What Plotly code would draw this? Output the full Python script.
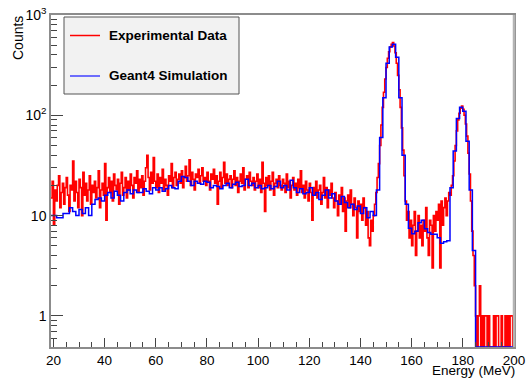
import plotly.graph_objects as go

# ---------------- data ----------------
# Experimental data: counts per 0.5 MeV bin, first bin starts at 19.0 MeV
RED_START = 19.0
RED_WIDTH = 0.5
red_counts = [
    15, 22, 8, 18, 14, 20, 25, 12, 17, 21, 13, 19, 24, 16, 11, 20, 18, 35, 14, 22,      # 19.0-28.5
    17, 12, 23, 19, 10, 27, 16, 21, 14, 18, 25, 13, 20, 17, 22, 15, 19, 28, 12, 18,     # 29.0-38.5
    21, 16, 33, 9, 19, 24, 17, 22, 14, 26, 20, 18, 23, 13, 21, 27, 16, 19, 24, 15,      # 39.0-48.5
    22, 18, 26, 20, 15, 24, 21, 28, 17, 23, 19, 25, 16, 22, 30, 40, 24, 18, 27, 21,     # 49.0-58.5
    38, 22, 19, 26, 17, 24, 21, 29, 18, 23, 20, 16, 25, 22, 33, 19, 24, 27, 20, 23,     # 59.0-68.5
    26, 21, 28, 19, 24, 31, 22, 25, 36, 20, 27, 23, 18, 26, 24, 29, 21, 25, 30, 22,     # 69.0-78.5
    24, 20, 27, 22, 18, 26, 23, 29, 21, 25, 13, 22, 27, 19, 24, 34, 21, 26, 20, 23,     # 79.0-88.5
    25, 19, 23, 28, 20, 24, 17, 22, 26, 21, 30, 18, 23, 25, 19, 27, 22, 20, 24, 18,     # 89.0-98.5
    22, 26, 19, 23, 17, 34, 21, 11, 24, 20, 25, 18, 22, 27, 16, 21, 23, 19, 25, 20,     # 99.0-108.5
    18, 23, 21, 17, 26, 19, 22, 15, 20, 24, 18, 21, 16, 23, 19, 28, 17, 20, 15, 22,     # 109.0-118.5
    18, 14, 21, 17, 9, 19, 16, 22, 15, 18, 20, 13, 17, 24, 15, 19, 12, 18, 16, 21,      # 119.0-128.5
    15, 12, 17, 14, 10, 16, 13, 19, 11, 15, 7, 14, 16, 12, 18, 13, 10, 15, 12, 6,       # 129.0-138.5
    14, 11, 13, 9, 15, 12, 8, 11, 6, 5, 9, 7, 10, 13, 17, 24, 33, 50, 80, 120,          # 139.0-148.5
    170, 230, 300, 370, 430, 480, 510, 530, 490, 420, 330, 250, 180, 120, 75, 45, 25, 14, 9, 11,  # 149.0-158.5
    6, 9, 5, 8, 11, 4, 7, 10, 6, 8, 5, 9, 7, 12, 6, 4, 9, 8, 3, 10,                      # 159.0-168.5
    7, 11, 9, 13, 3, 14, 8, 12, 15, 10, 14, 17, 16, 20, 25, 35, 50, 70, 90, 105,        # 169.0-178.5
    118, 124, 115, 100, 82, 62, 42, 26, 14, 7, 4, 2, 1, 0, 1, 2, 0, 1, 0, 1,            # 179.0-188.5
    1, 0, 1, 0, 0, 0, 1, 0, 1, 1, 0, 0, 1, 0, 0, 1, 0, 1, 0, 1, 1, 0,                    # 189.0-199.5
]

# Geant4 simulation: counts per 1.25 MeV bin, first bin starts at 18.75 MeV
BLUE_START = 18.75
BLUE_WIDTH = 1.25
blue_counts = [
    10, 10, 9.5, 9.5, 10.5, 10.5, 12, 11,          # 18.75-27.5
    10, 11.5, 10.5, 12, 10, 13, 14.5, 15,          # 28.75-37.5
    14, 16, 17, 15, 17.5, 16, 14, 17,              # 38.75-47.5
    18, 16.5, 18, 17, 17, 18.5, 17.5, 16.5,        # 48.75-57.5
    19, 18, 19, 17.5, 18.5, 20, 19, 18.5,          # 58.75-67.5
    22, 24.5, 24, 22, 20, 22, 21, 20.5,            # 68.75-77.5
    22, 21.5, 19, 20, 19.5, 18.5, 20, 21,          # 78.75-87.5
    19, 20.5, 21.5, 19.5, 20, 23, 20, 21,          # 88.75-97.5
    19, 20, 18.5, 19, 20, 18.5, 19.5, 22,          # 98.75-107.5
    19, 20, 18, 22.5, 19, 17, 18.5, 16.5,          # 108.75-117.5
    17, 19, 16, 17, 14.5, 16, 18, 15,              # 118.75-127.5
    16.5, 14, 13, 15.5, 13.5, 12, 13, 11.5,        # 128.75-137.5
    12.5, 10.5, 12, 9.5, 11, 10, 18, 60,           # 138.75-147.5
    150, 330, 480, 510, 380, 150, 40, 13,          # 148.75-157.5
    7.5, 6.6, 7, 8.5, 9, 7.4, 6.8, 6.5,            # 158.75-167.5
    6.5, 6, 5.3, 5.5, 5.6, 19, 44, 93,             # 168.75-177.5
    120, 110, 55, 18, 4.5, 0, 0, 0,                # 178.75-187.5
    0, 0, 0, 0, 0, 0, 0, 0,                        # 188.75-197.5
    0,                                             # 198.75
]

x_tickvals = [20, 40, 60, 80, 100, 120, 140, 160, 180, 200]
y_tickvals = [1, 10, 100, 1000]
y_ticktext = ["1", "10", "10<sup>2</sup>", "10<sup>3</sup>"]
y_minor_tickvals = [0.5, 0.6, 0.7, 0.8, 0.9,
                    2, 3, 4, 5, 6, 7, 8, 9,
                    20, 30, 40, 50, 60, 70, 80, 90,
                    200, 300, 400, 500, 600, 700, 800, 900]

legend_labels = ["Experimental Data", "Geant4 Simulation"]

# ---------------- layout geometry ----------------
W, H = 527, 378
L, R, T, B = 51, 514, 15, 347
X_RANGE = [19.05, 200.02]
Y_MIN = 0.49
Y_RANGE = [-0.31, 3.0]


def px_x(p):
    return (p - L) / (R - L)


def px_y(p):
    return (B - p) / (B - T)


def step_xy(start, width, counts):
    xs = [start + i * width for i in range(len(counts) + 1)]
    ys = [c if c > 0 else Y_MIN for c in counts]
    ys = ys + [ys[-1]]
    return xs, ys


rx, ry = step_xy(RED_START, RED_WIDTH, red_counts)
bx, by = step_xy(BLUE_START, BLUE_WIDTH, blue_counts)

fig = go.Figure()
fig.add_trace(go.Scatter(x=rx, y=ry, mode="lines", line=dict(color="#ff0000", width=1.6, shape="hv"),
                         name=legend_labels[0], showlegend=False))
fig.add_trace(go.Scatter(x=bx, y=by, mode="lines", line=dict(color="#0000ff", width=1.5, shape="hv"),
                         name=legend_labels[1], showlegend=False))

FONT = "Liberation Sans, Arial, sans-serif"
axis_color = "#8c8c8c"

fig.update_layout(
    width=W, height=H,
    margin=dict(l=L, r=W - R, t=T, b=H - B, pad=0, autoexpand=False),
    paper_bgcolor="white", plot_bgcolor="white",
    font=dict(family=FONT, size=14, color="black"),
    xaxis=dict(range=X_RANGE, showgrid=False, zeroline=False, automargin=False,
               showline=True, linecolor=axis_color, linewidth=1.5, mirror=True,
               ticks="inside", ticklen=9, tickwidth=1, tickcolor="#444",
               tickvals=x_tickvals, tickfont=dict(size=13.5),
               minor=dict(ticks="inside", ticklen=5, tickwidth=1, tickcolor="#444", dtick=5, tick0=0)),
    yaxis=dict(type="log", range=Y_RANGE, showgrid=False, zeroline=False, automargin=False,
               showline=True, linecolor=axis_color, linewidth=1.5, mirror=True,
               ticks="inside", ticklen=12, tickwidth=1, tickcolor="#444",
               tickvals=y_tickvals, ticktext=y_ticktext, tickfont=dict(size=14),
               minor=dict(ticks="inside", ticklen=6, tickwidth=1, tickcolor="#444",
                          tickvals=y_minor_tickvals)),
)

# right frame edge is a thicker light-grey line in the reference
fig.add_shape(type="line", xref="paper", yref="paper", x0=1, x1=1, y0=0, y1=1,
              line=dict(color="#b4b4b4", width=2.5), layer="above")

# legend (drawn manually to match box geometry)
fig.add_shape(type="rect", xref="paper", yref="paper",
              x0=px_x(64), x1=px_x(239), y0=px_y(94), y1=px_y(17),
              fillcolor="#f2f2f2", line=dict(color="#555555", width=1), layer="above")
fig.add_shape(type="line", xref="paper", yref="paper",
              x0=px_x(70), x1=px_x(100), y0=px_y(35.5), y1=px_y(35.5),
              line=dict(color="#ff0000", width=1.5), layer="above")
fig.add_shape(type="line", xref="paper", yref="paper",
              x0=px_x(70), x1=px_x(100), y0=px_y(76), y1=px_y(76),
              line=dict(color="#4040ff", width=1.5), layer="above")
for label, yy in zip(legend_labels, [35.5, 76]):
    fig.add_annotation(text="<b>%s</b>" % label, xref="paper", yref="paper",
                       x=px_x(107), y=px_y(yy), xanchor="left", yanchor="middle",
                       showarrow=False, font=dict(size=13.5, color="black"))

# axis titles
fig.add_annotation(text="Counts", xref="paper", yref="paper", x=px_x(18), y=px_y(14),
                   xanchor="center", yanchor="top", textangle=-90, showarrow=False,
                   font=dict(size=14))
fig.add_annotation(text="Energy (MeV)", xref="paper", yref="paper", x=px_x(516), y=px_y(378.5),
                   xanchor="right", yanchor="bottom", showarrow=False, borderpad=0,
                   font=dict(size=13.5))

fig.write_html("out.html")
